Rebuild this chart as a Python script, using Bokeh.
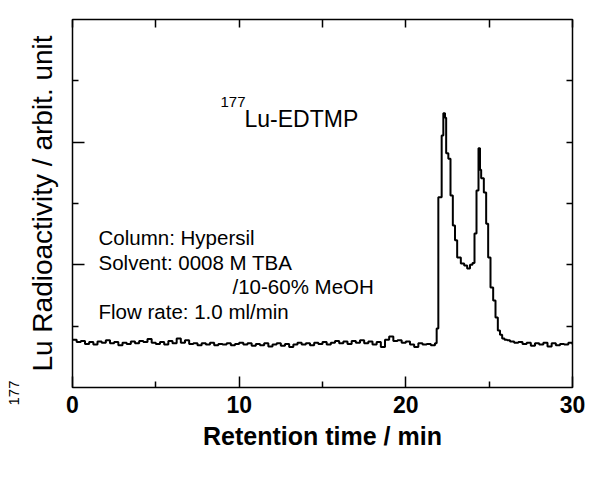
import math
from bokeh.plotting import figure
from bokeh.models import (Range1d, LinearAxis, FixedTicker, Label, ColumnDataSource,
                          Title, CustomJSTickFormatter)
from bokeh.embed import file_html
from bokeh.resources import INLINE

# ---- data ----
time_min = [
    0.00, 0.25, 0.50, 0.75, 1.00, 1.25, 1.50, 1.75, 2.00, 2.25, 2.50, 2.75,
    3.00, 3.25, 3.50, 3.75, 4.00, 4.25, 4.50, 4.75, 5.00, 5.25, 5.50, 5.75,
    6.00, 6.25, 6.50, 6.75, 7.00, 7.25, 7.50, 7.75, 8.00, 8.25, 8.50, 8.75,
    9.00, 9.25, 9.50, 9.75, 10.00, 10.25, 10.50, 10.75, 11.00, 11.25, 11.50, 11.75,
    12.00, 12.25, 12.50, 12.75, 13.00, 13.25, 13.50, 13.75, 14.00, 14.25, 14.50, 14.75,
    15.00, 15.25, 15.50, 15.75, 16.00, 16.25, 16.50, 16.75, 17.00, 17.25, 17.50, 17.75,
    18.00, 18.25, 18.50, 18.75, 19.00, 19.25, 19.50, 19.75, 20.00, 20.25, 20.50, 20.75,
    21.00, 21.25, 21.50, 21.75,
    21.85, 21.95, 22.15, 22.25, 22.35, 22.42, 22.55, 22.68, 22.82, 22.95, 23.08, 23.30,
    23.50, 23.68, 23.85, 24.00, 24.12, 24.24, 24.36, 24.45, 24.52, 24.68, 24.82, 24.94,
    25.08, 25.24, 25.38, 25.52, 25.65, 25.78, 25.92, 26.08,
    26.25, 26.50, 26.75, 27.00, 27.25, 27.50, 27.75, 28.00, 28.25, 28.50, 28.75, 29.00,
    29.25, 29.50, 29.75, 30.00,
]
radioactivity = [
    0.78, 0.74, 0.76, 0.71, 0.74, 0.70, 0.75, 0.73, 0.77, 0.72, 0.74, 0.69,
    0.73, 0.71, 0.75, 0.72, 0.76, 0.74, 0.79, 0.73, 0.71, 0.74, 0.70, 0.76,
    0.72, 0.80, 0.73, 0.77, 0.71, 0.72, 0.69, 0.72, 0.70, 0.73, 0.69, 0.71,
    0.70, 0.72, 0.69, 0.71, 0.73, 0.70, 0.72, 0.68, 0.71, 0.69, 0.72, 0.67,
    0.70, 0.72, 0.68, 0.71, 0.66, 0.70, 0.73, 0.70, 0.72, 0.69, 0.73, 0.71,
    0.74, 0.70, 0.73, 0.76, 0.72, 0.75, 0.71, 0.76, 0.73, 0.77, 0.72, 0.75,
    0.70, 0.74, 0.66, 0.78, 0.83, 0.76, 0.77, 0.73, 0.75, 0.70, 0.66, 0.72,
    0.70, 0.71, 0.69, 0.72,
    0.96, 3.10, 4.11, 4.47, 4.40, 3.82, 3.73, 3.13, 2.64, 2.40, 2.12, 2.02,
    1.99, 1.94, 2.00, 2.03, 2.51, 3.21, 3.90, 3.55, 3.41, 3.18, 2.67, 2.12,
    1.63, 1.42, 1.14, 0.93, 0.86, 0.80, 0.78, 0.77,
    0.75, 0.73, 0.74, 0.71, 0.73, 0.68, 0.72, 0.70, 0.73, 0.67, 0.72, 0.69,
    0.71, 0.70, 0.73, 0.70,
]
x_ticks = [0, 10, 20, 30]
x_minor_ticks = [5, 15, 25]
y_major_ticks = [2, 4]
y_minor_ticks = [1, 3, 5]

FONT = "Liberation Sans"
blank = CustomJSTickFormatter(code="return ''")

p = figure(width=600, height=480, output_backend="svg", toolbar_location=None,
           x_range=Range1d(0, 30), y_range=Range1d(0, 6),
           x_axis_type=None, y_axis_type=None,
           min_border_left=72, min_border_right=28, min_border_top=19,
           min_border_bottom=93)
p.outline_line_color = "black"
p.outline_line_width = 1.5
p.background_fill_color = "white"
p.border_fill_color = "white"

src = ColumnDataSource(dict(t=time_min, v=radioactivity))
p.step("t", "v", source=src, mode="after", line_color="black", line_width=2)

# bottom axis
xb = LinearAxis(ticker=FixedTicker(ticks=x_ticks, minor_ticks=x_minor_ticks))
xb.axis_line_color = None
xb.major_tick_in = 11
xb.major_tick_out = 0
xb.minor_tick_in = 6
xb.minor_tick_out = 0
xb.major_tick_line_width = 1.5
xb.minor_tick_line_width = 1.5
xb.major_label_text_font = FONT
xb.major_label_text_font_style = "bold"
xb.major_label_text_font_size = "23px"
xb.major_label_text_color = "black"
xb.major_label_standoff = 8
xb.axis_label = "Retention time / min"
xb.axis_label_text_font = FONT
xb.axis_label_text_font_style = "bold"
xb.axis_label_text_font_size = "25px"
xb.axis_label_text_color = "black"
xb.axis_label_standoff = 6
p.add_layout(xb, "below")

# top axis (ticks only)
xt = LinearAxis(ticker=FixedTicker(ticks=x_ticks + x_minor_ticks, minor_ticks=[]),
                formatter=blank)
xt.axis_line_color = None
xt.major_tick_in = 8
xt.major_tick_out = 0
xt.minor_tick_line_color = None
xt.major_tick_line_width = 1.5
xt.major_label_standoff = 0
p.add_layout(xt, "above")

# left axis (ticks only)
yl = LinearAxis(ticker=FixedTicker(ticks=y_major_ticks, minor_ticks=y_minor_ticks),
                formatter=blank)
yl.axis_line_color = None
yl.major_tick_in = 12
yl.major_tick_out = 0
yl.minor_tick_in = 6
yl.minor_tick_out = 0
yl.major_tick_line_width = 1.5
yl.minor_tick_line_width = 1.5
yl.major_label_standoff = 0
p.add_layout(yl, "left")

# right axis (ticks only)
yr = LinearAxis(ticker=FixedTicker(ticks=y_minor_ticks + y_major_ticks, minor_ticks=[]),
                formatter=blank)
yr.axis_line_color = None
yr.major_tick_in = 6
yr.major_tick_out = 0
yr.minor_tick_line_color = None
yr.major_tick_line_width = 1.5
yr.major_label_standoff = 0
p.add_layout(yr, "right")

# y axis title with superscript (as side titles)
t_main = Title(text="Lu Radioactivity / arbit. unit", align="center", offset=13,
               standoff=29, text_font=FONT, text_font_size="28px",
               text_font_style="normal", text_color="black")
p.add_layout(t_main, "left")
t_sup = Title(text="177", align="left", offset=-18, standoff=-17,
              text_font=FONT, text_font_size="15px",
              text_font_style="normal", text_color="black")
p.add_layout(t_sup, "left")

# peak label
p.add_layout(Label(x=8.88, y=4.66, text="177", text_align="left", text_baseline="middle",
                   text_font=FONT, text_font_size="15px", text_color="black"))
p.add_layout(Label(x=10.32, y=4.37, text="Lu-EDTMP", text_align="left",
                   text_baseline="middle", text_font=FONT, text_font_size="23px",
                   text_color="black"))

# conditions text
cond_text = ["Column: Hypersil", "Solvent: 0008 M TBA", "/10-60% MeOH",
             "Flow rate: 1.0 ml/min"]
cond_x = [1.56, 1.56, 9.6, 1.56]
cond_y = [2.45, 2.04, 1.65, 1.24]
for txt, x, y in zip(cond_text, cond_x, cond_y):
    p.add_layout(Label(x=x, y=y, text=txt, text_align="left", text_baseline="middle",
                       text_font=FONT, text_font_size="20.5px", text_color="black"))

open("out.html", "w").write(file_html(p, INLINE))
